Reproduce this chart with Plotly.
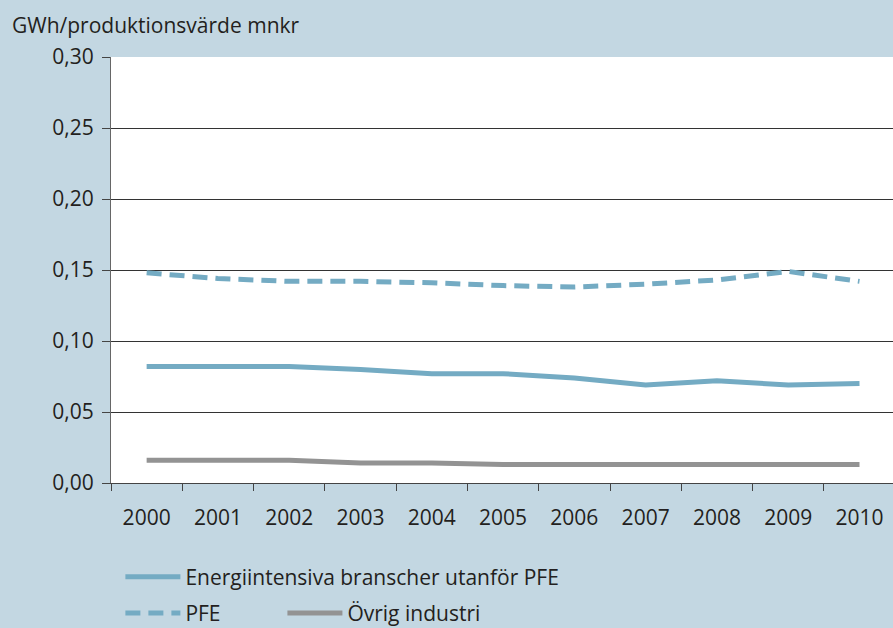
import plotly.graph_objects as go

years = ["2000", "2001", "2002", "2003", "2004", "2005", "2006", "2007", "2008", "2009", "2010"]
energi = [0.082, 0.082, 0.082, 0.080, 0.077, 0.077, 0.074, 0.069, 0.072, 0.069, 0.070]
pfe = [0.148, 0.144, 0.142, 0.142, 0.141, 0.139, 0.138, 0.140, 0.143, 0.149, 0.142]
ovrig = [0.016, 0.016, 0.016, 0.014, 0.014, 0.013, 0.013, 0.013, 0.013, 0.013, 0.013]
y_ticks = [0.0, 0.05, 0.10, 0.15, 0.20, 0.25, 0.30]

bg = "#c3d7e2"
blue = "#74abc3"
grey = "#939393"
ink = "#231f20"
font_family = "'Open Sans', Lato, sans-serif"

fig = go.Figure()

fig.add_trace(go.Scatter(
    x=years, y=energi, mode="lines",
    name="Energiintensiva branscher utanför PFE",
    line=dict(color=blue, width=5),
    legend="legend",
))
fig.add_trace(go.Scatter(
    x=years, y=pfe, mode="lines",
    name="PFE",
    line=dict(color=blue, width=5, dash="15px,8px"),
    legend="legend2",
))
fig.add_trace(go.Scatter(
    x=years, y=ovrig, mode="lines",
    name="Övrig industri",
    line=dict(color=grey, width=5),
    legend="legend3",
))

fig.update_xaxes(
    type="category",
    range=[-0.5, 10.47],
    tickson="boundaries",
    ticks="outside", ticklen=7, tickcolor="#444",
    ticklabelstandoff=16,
    showgrid=False,
    showline=True, linecolor="#444", linewidth=1,
    tickfont=dict(size=21, color=ink),
    fixedrange=True,
)
fig.update_yaxes(
    range=[0, 0.30],
    tickvals=y_ticks,
    tickformat=".2f",
    ticks="outside", ticklen=8, tickcolor="#444",
    ticklabelstandoff=4,
    showgrid=True, gridcolor="#333", gridwidth=1,
    showline=True, linecolor="#666", linewidth=1,
    zeroline=False,
    tickfont=dict(size=21, color=ink),
    fixedrange=True,
)

legend_common = dict(
    xanchor="left", yanchor="middle",
    orientation="h", bgcolor="rgba(0,0,0,0)",
    itemwidth=55,
    font=dict(size=21, color=ink),
)

fig.update_layout(
    width=893, height=628,
    margin=dict(l=111, r=0, t=57, b=145, autoexpand=False),
    paper_bgcolor=bg, plot_bgcolor="white",
    separators=", ",
    font=dict(family=font_family, color=ink, size=21),
    annotations=[dict(
        text="GWh/produktionsvärde mnkr",
        xref="paper", yref="paper",
        x=-0.129, y=1.075, xanchor="left", yanchor="middle",
        showarrow=False, font=dict(size=21, color=ink),
    )],
    legend=dict(x=0.012, y=-0.221, **legend_common),
    legend2=dict(x=0.012, y=-0.306, **legend_common),
    legend3=dict(x=0.2192, y=-0.306, **legend_common),
    showlegend=True,
)

fig.write_html(
    "out.html",
    config={"displayModeBar": False},
    post_script="document.body.style.margin='0';",
)
